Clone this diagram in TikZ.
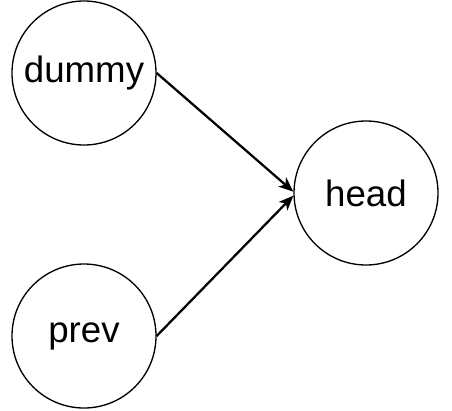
\documentclass[tikz,border=0pt]{standalone}
\usepackage{fontspec}
\setmainfont{Liberation Sans}
\usetikzlibrary{arrows.meta}

\tikzset{
  vertex/.style={draw, circle, line width=1pt, minimum size=108pt, inner sep=0pt,
    font=\fontsize{27.5}{33}\selectfont},
  link/.style={line width=1.7pt, -{Stealth[length=11pt, width=9pt, inset=3pt]}}
}

\begin{document}
\begin{tikzpicture}[x=0.75pt, y=-0.75pt]
\useasboundingbox (0,0) rectangle (452,410);

\node[vertex] (dummy) at (84,73) {dummy};
\node[vertex] (prev) at (84,336) {prev};
\node[vertex] (head) at (366,193) {head};

\draw[link] (dummy.east) -- ([yshift=1pt]head.west);
\draw[link] (prev.east) -- ([yshift=-2pt]head.west);
\end{tikzpicture}
\end{document}
